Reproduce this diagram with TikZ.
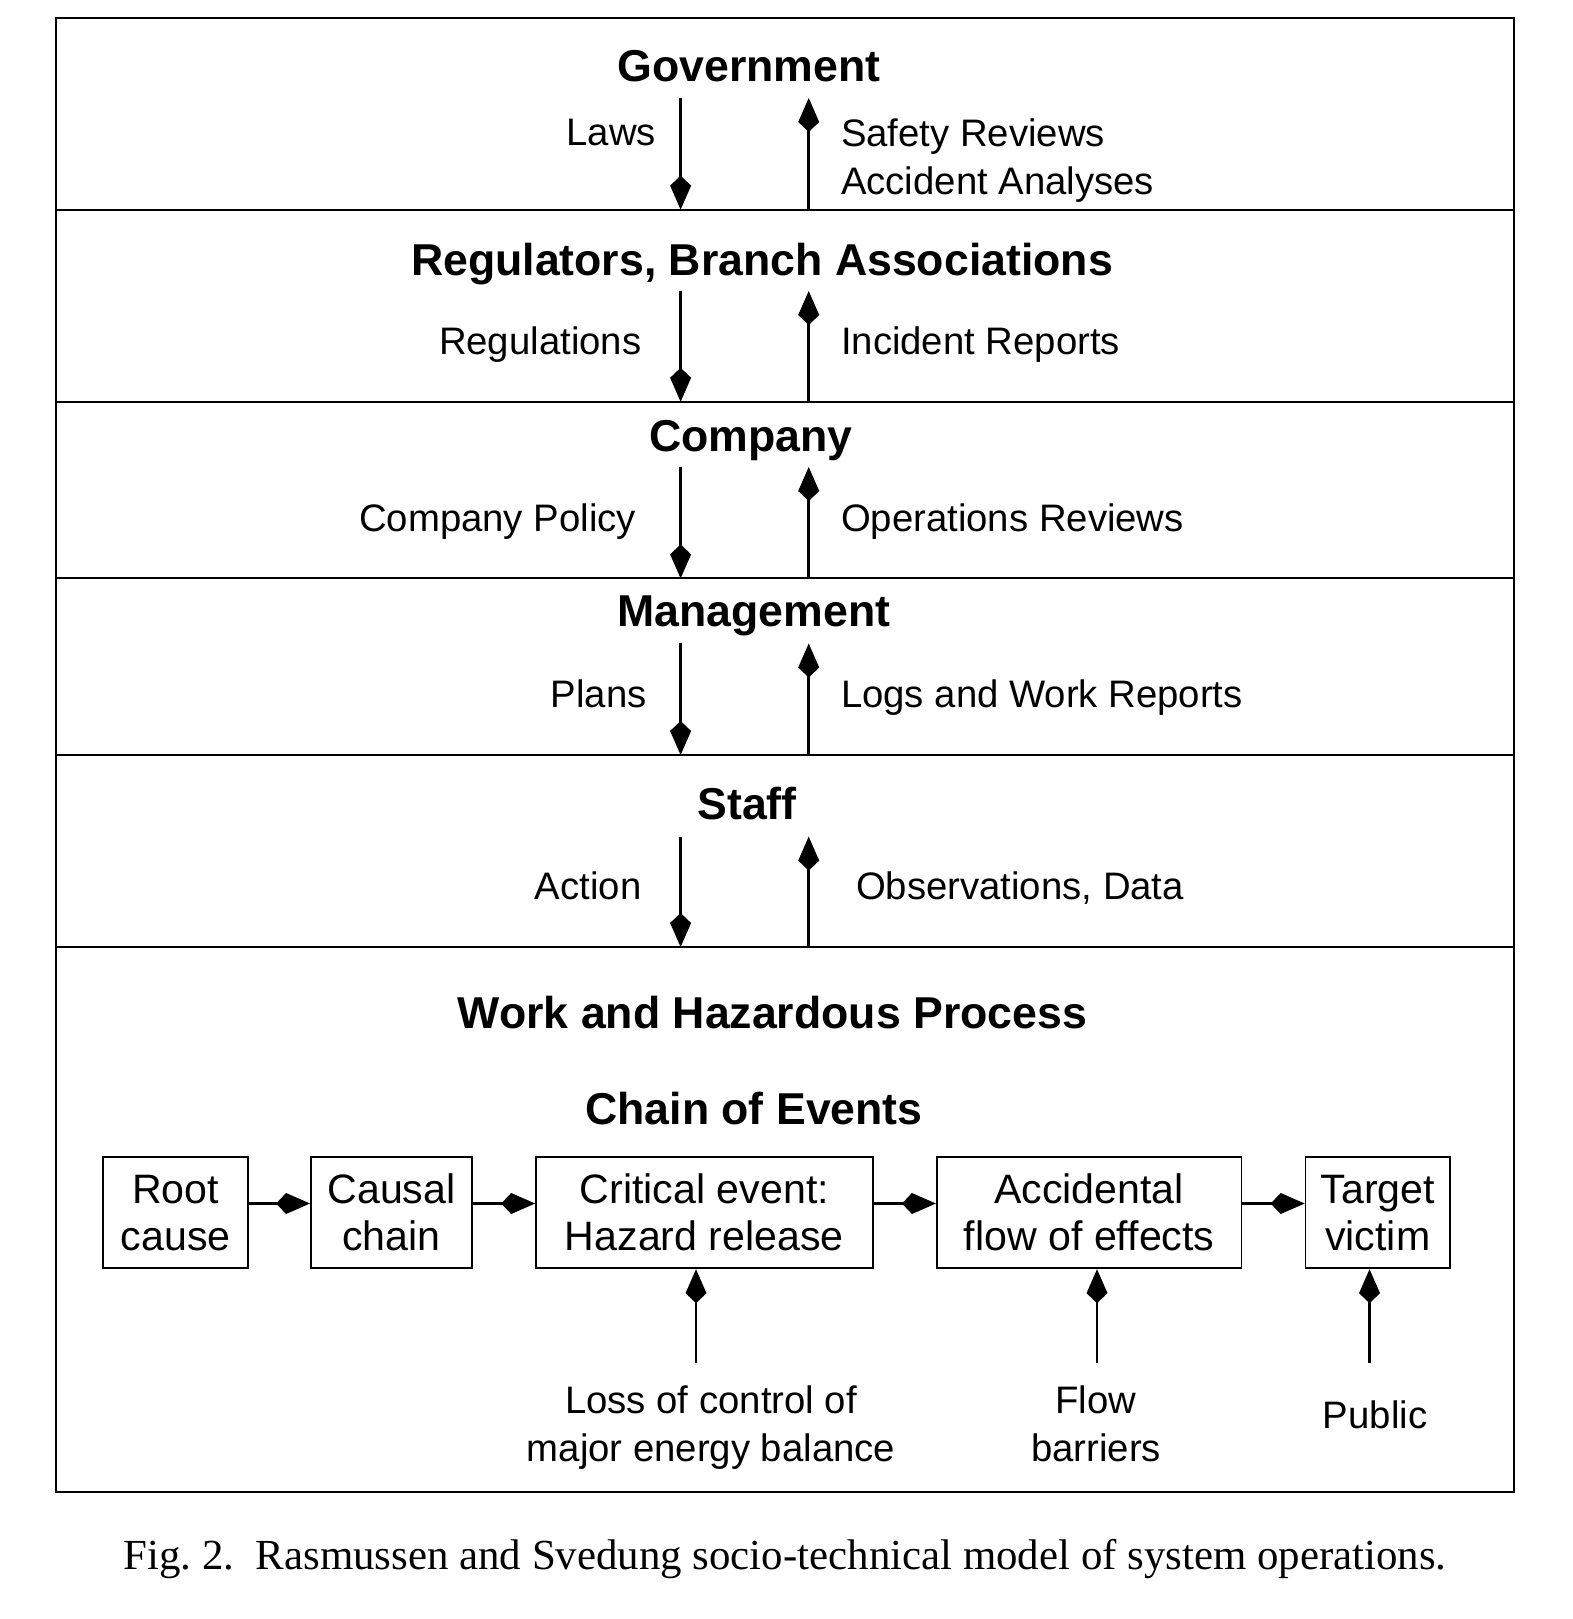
\documentclass[tikz,border=0pt]{standalone}
\usepackage{fontspec}
\setmainfont{Liberation Serif}
\setsansfont{Liberation Sans}
\usetikzlibrary{arrows.meta}

\begin{document}
\begin{tikzpicture}[x=0.1mm,y=-0.1mm,line width=0.6pt,font=\sffamily,
  title/.style={font=\sffamily\bfseries\fontsize{12.7}{14}\selectfont,inner sep=0pt,text depth=0pt},
  lab/.style={font=\sffamily\fontsize{10.9}{13.7}\selectfont,inner sep=0pt,text depth=0pt},
  evbox/.style={draw,line width=0.5pt,minimum height=11.16mm,inner sep=0pt,text depth=0pt,
    align=center,font=\sffamily\fontsize{11.7}{13.4}\selectfont},
  flow/.style={-{Kite[length=3.4mm,width=2.1mm,inset=1mm]},line width=0.7pt}]
  \useasboundingbox (0,0) rectangle (1573,1619);

  % frame and levels
  \coordinate (s1) at (55.8,209.7);
  \coordinate (s2) at (55.8,401.8);
  \coordinate (s3) at (55.8,578.4);
  \coordinate (s4) at (55.8,755);
  \coordinate (s5) at (55.8,947);
  \draw (55.8,17.6) rectangle (1514,1492);
  \draw (s1) -- +(1458.2,0) (s2) -- +(1458.2,0) (s3) -- +(1458.2,0)
        (s4) -- +(1458.2,0) (s5) -- +(1458.2,0);

  \node[title] (gov) at (749,66) {Government};
  \node[title] (reg) at (762,259) {Regulators, Branch Associations};
  \node[title] (comp) at (751,436) {Company};
  \node[title] (mgmt) at (754,611) {Management};
  \node[title] (staff) at (747,803.5) {Staff};
  \node[title] (work) at (772.5,1012) {Work and Hazardous Process};
  \node[title] (chain) at (754,1108) {Chain of Events};

  % down and up arrows
  \coordinate (d1) at (680.6,98);   \coordinate (u1) at (808.7,98);
  \coordinate (d2) at (680.6,291);  \coordinate (u2) at (808.7,291);
  \coordinate (d3) at (680.6,467);  \coordinate (u3) at (808.7,467);
  \coordinate (d4) at (680.6,643.5);\coordinate (u4) at (808.7,643.5);
  \coordinate (d5) at (680.6,836.6);\coordinate (u5) at (808.7,836.6);
  \draw[flow] (d1) -- (d1 |- s1);  \draw[flow] (u1 |- s1) -- (u1);
  \draw[flow] (d2) -- (d2 |- s2);  \draw[flow] (u2 |- s2) -- (u2);
  \draw[flow] (d3) -- (d3 |- s3);  \draw[flow] (u3 |- s3) -- (u3);
  \draw[flow] (d4) -- (d4 |- s4);  \draw[flow] (u4 |- s4) -- (u4);
  \draw[flow] (d5) -- (d5 |- s5);  \draw[flow] (u5 |- s5) -- (u5);

  \node[lab,anchor=east] (laws) at (657,132) {Laws};
  \node[lab,anchor=west,align=left] (safety) at (840,156.5) {Safety Reviews\\Accident Analyses};
  \node[lab,anchor=east] (regs) at (642.4,341) {Regulations};
  \node[lab,anchor=west] (incident) at (840,341) {Incident Reports};
  \node[lab,anchor=east] (policy) at (637,517.5) {Company Policy};
  \node[lab,anchor=west] (opsrev) at (840,517.5) {Operations Reviews};
  \node[lab,anchor=east] (plans) at (647.6,694) {Plans};
  \node[lab,anchor=west] (logs) at (840,694) {Logs and Work Reports};
  \node[lab,anchor=east] (action) at (642.4,886) {Action};
  \node[lab,anchor=west] (obs) at (855,886) {Observations, Data};

  % chain of events
  \node[evbox,minimum width=14.46mm] (root) at (175.6,1212.5) {Root\\cause};
  \node[evbox,minimum width=16.11mm] (causal) at (391.5,1212.5) {Causal\\chain};
  \node[evbox,minimum width=33.67mm] (critical) at (704.4,1212.5) {Critical event:\\Hazard release};
  \node[evbox,minimum width=30.46mm] (accid) at (1089.1,1212.5) {Accidental\\flow of effects};
  \node[evbox,minimum width=14.45mm] (target) at (1377.8,1212.5) {Target\\victim};
  \draw[flow] ([yshift=0.9mm]root.east) -- ([yshift=0.9mm]causal.west);
  \draw[flow] ([yshift=0.9mm]causal.east) -- ([yshift=0.9mm]critical.west);
  \draw[flow] ([yshift=0.9mm]critical.east) -- ([yshift=0.9mm]accid.west);
  \draw[flow] ([yshift=0.9mm]accid.east) -- ([yshift=0.9mm]target.west);

  \coordinate (b1) at (696,1363);
  \coordinate (b2) at (1097,1363);
  \coordinate (b3) at (1369.5,1363);
  \draw[flow] (b1) -- (b1 |- critical.south);
  \draw[flow] (b2) -- (b2 |- accid.south);
  \draw[flow] (b3) -- (b3 |- target.south);
  \node[lab,align=center] (loss) at (711,1424) {Loss of control of\\major energy balance};
  \node[lab,align=center] (barriers) at (1096,1424) {Flow\\barriers};
  \node[lab] (public) at (1375,1415) {Public};

  \node[font=\rmfamily\fontsize{12.2}{14}\selectfont] (caption) at (785,1559)
    {Fig.~2.\ \ Rasmussen and Svedung socio-technical model of system operations.};
\end{tikzpicture}
\end{document}
